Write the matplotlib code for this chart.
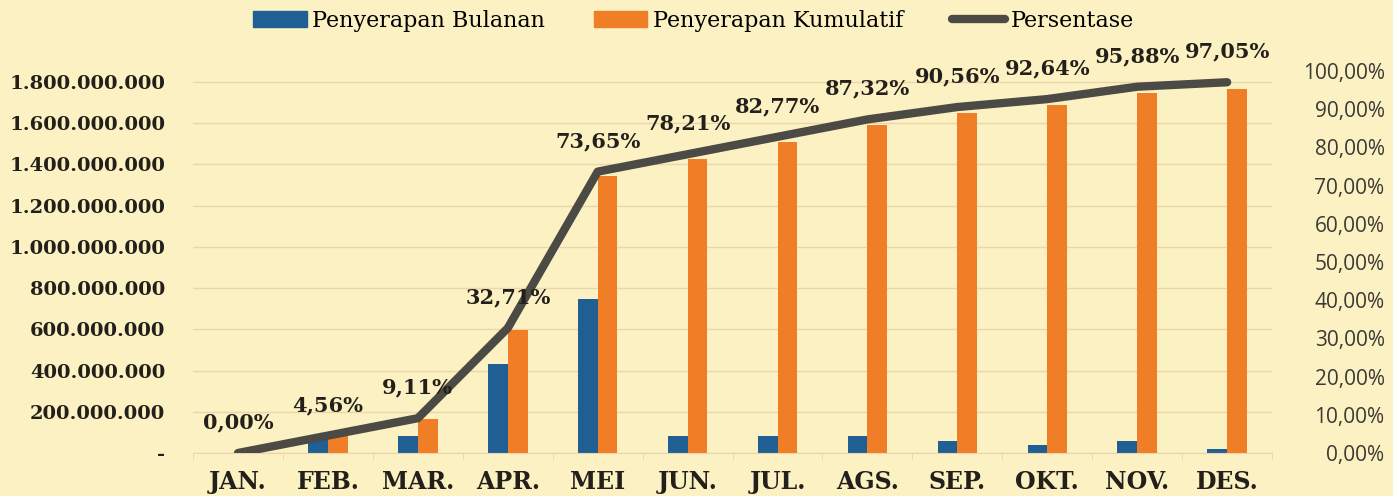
import matplotlib
matplotlib.use("Agg")
import matplotlib.pyplot as plt
from matplotlib.ticker import FixedLocator, FuncFormatter
from matplotlib.lines import Line2D
from matplotlib.patches import Patch
import numpy as np

# data
months = ["JAN.", "FEB.", "MAR.", "APR.", "MEI", "JUN.", "JUL.", "AGS.", "SEP.", "OKT.", "NOV.", "DES."]
bulanan = [0, 83e6, 83e6, 430e6, 746e6, 83e6, 83e6, 83e6, 59e6, 38e6, 59e6, 21e6]
kumulatif = [0, 83e6, 166e6, 596e6, 1342e6, 1425e6, 1508e6, 1591e6, 1650e6, 1688e6, 1747e6, 1768e6]
persen = [0.0, 4.56, 9.11, 32.71, 73.65, 78.21, 82.77, 87.32, 90.56, 92.64, 95.88, 97.05]
left_ticks = [0, 200e6, 400e6, 600e6, 800e6, 1000e6, 1200e6, 1400e6, 1600e6, 1800e6]
right_ticks = [0, 10, 20, 30, 40, 50, 60, 70, 80, 90, 100]

BG = "#FCF1C2"
BLUE = "#1F5F93"
ORANGE = "#F07E26"
LINE = "#4B4A45"
GRID = "#EBD5AC"
SERIF = "DejaVu Serif"

fig = plt.figure(figsize=(13.93, 4.96), dpi=100, facecolor=BG)
ax = fig.add_axes([0.1386, 0.0867, 0.7746, 0.7702])
ax.set_facecolor(BG)

x = np.arange(len(months))
w = 0.22
ax.bar(x - w / 2, bulanan, w, color=BLUE, zorder=2)
ax.bar(x + w / 2, kumulatif, w, color=ORANGE, zorder=2)

ax.set_xlim(-0.5, len(months) - 0.5)
ax.set_ylim(0, 1.853e9)
ax.yaxis.set_major_locator(FixedLocator(left_ticks))
ax.yaxis.set_major_formatter(FuncFormatter(
    lambda v, p: "-" if v == 0 else f"{int(v):,}".replace(",", ".")))
ax.grid(axis="y", color=GRID, linewidth=1, zorder=0)
for s in ["top", "right", "left"]:
    ax.spines[s].set_visible(False)
ax.spines["bottom"].set_color(GRID)
ax.tick_params(axis="y", length=0, pad=20)
for t in ax.get_yticklabels():
    t.set_fontfamily(SERIF)
    t.set_fontweight("bold")
    t.set_fontsize(14)
    t.set_color("#231F1A")

ax.set_xticks(x)
ax.set_xticklabels(months, fontfamily=SERIF, fontweight="bold", fontsize=17, color="#231F1A")
ax.set_xticks(np.arange(-0.5, len(months)), minor=True)
ax.tick_params(axis="x", which="major", length=0, pad=12)
ax.tick_params(axis="x", which="minor", length=5, color=GRID)

ax2 = ax.twinx()
ax2.set_ylim(0, 100)
ax2.yaxis.set_major_locator(FixedLocator(right_ticks))
ax2.yaxis.set_major_formatter(FuncFormatter(lambda v, p: f"{v:.2f}".replace(".", ",") + "%"))
for s in ["top", "right", "left", "bottom"]:
    ax2.spines[s].set_visible(False)
ax2.tick_params(axis="y", length=0, pad=81, labelsize=15, labelcolor="#3C3A36")
for t in ax2.get_yticklabels():
    t.set_horizontalalignment("right")
    t.set_fontfamily("Open Sans")

ax2.plot(x, persen, color=LINE, linewidth=6, solid_capstyle="round",
         solid_joinstyle="round", zorder=3)
for xi, p in zip(x, persen):
    ax2.annotate(f"{p:.2f}".replace(".", ",") + "%", (xi, p), xytext=(0, 22),
                 textcoords="offset points", ha="center", va="center",
                 fontfamily=SERIF, fontweight="bold", fontsize=15, color="#231F1A")

handles = [Patch(color=BLUE), Patch(color=ORANGE),
           Line2D([], [], color=LINE, linewidth=6, solid_capstyle="round")]
labels = ["Penyerapan Bulanan", "Penyerapan Kumulatif", "Persentase"]
fig.legend(handles, labels, loc="center", bbox_to_anchor=(0.498, 0.958), ncol=3,
           frameon=False, handlelength=2.4, handleheight=0.7, handletextpad=0.25,
           columnspacing=2.2, prop={"family": SERIF, "size": 16})

fig.savefig("out.png", dpi=100, facecolor=BG)
